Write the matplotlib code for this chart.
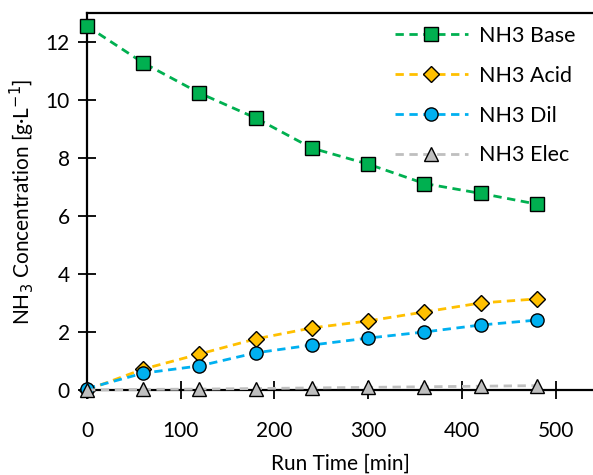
import matplotlib.pyplot as plt

plt.rcParams['font.family'] = ['Lato', 'DejaVu Sans']

# run time [min]
TIME = [0, 60, 120, 180, 240, 300, 360, 420, 480]
# NH3 concentration [g/L]
BASE = [12.55, 11.28, 10.24, 9.38, 8.34, 7.79, 7.12, 6.78, 6.41]
ACID = [0.0, 0.72, 1.24, 1.76, 2.14, 2.38, 2.69, 3.0, 3.14]
DIL = [0.05, 0.58, 0.83, 1.28, 1.55, 1.79, 2.0, 2.24, 2.41]
ELEC = [0.0, 0.02, 0.03, 0.05, 0.07, 0.09, 0.11, 0.13, 0.15]

SERIES = [
    ('NH3 Base', BASE, '#00B050', '#00B050', 's', 9.5),
    ('NH3 Acid', ACID, '#FFC000', '#FFC000', 'D', 8.5),
    ('NH3 Dil', DIL, '#00B0F0', '#00B0F0', 'o', 9.5),
    ('NH3 Elec', ELEC, '#BFBFBF', '#BFBFBF', '^', 9.5),
]


def main():
    fig = plt.figure(figsize=(5.93, 4.75), dpi=100)
    ax = fig.add_axes([0.1467, 0.179, 0.8533, 0.7936])
    for label, vals, lc, mc, mk, ms in SERIES:
        ax.plot(TIME, vals, linestyle=(0, (3, 2)), color=lc, lw=2,
                marker=mk, markersize=ms, markerfacecolor=mc,
                markeredgecolor='black', markeredgewidth=1.0,
                label=label, clip_on=False, zorder=3)

    ax.set_xlim(0, 540)
    ax.set_ylim(0, 13)
    ax.set_xticks(range(0, 501, 100))
    ax.set_yticks(range(0, 13, 2))
    ax.spines['right'].set_visible(False)
    for s in ('left', 'top', 'bottom'):
        ax.spines[s].set_linewidth(1.6)
    ax.tick_params(axis='both', direction='inout', length=13, width=1.3,
                   labelsize=15)
    ax.tick_params(axis='x', pad=16)
    ax.tick_params(axis='y', pad=6)

    ax.set_xlabel('Run Time [min]', fontsize=15, labelpad=9)
    ax.set_ylabel('NH$_3$ Concentration [g·L$^{-1}$]', fontsize=15, labelpad=6)

    ax.legend(loc='upper right', frameon=False, fontsize=15.5, handlelength=3.4,
              labelspacing=0.92, handletextpad=0.5, borderaxespad=0.2,
              bbox_to_anchor=(0.99, 1.0))

    plt.savefig('out.png', dpi=100)


if __name__ == '__main__':
    main()
